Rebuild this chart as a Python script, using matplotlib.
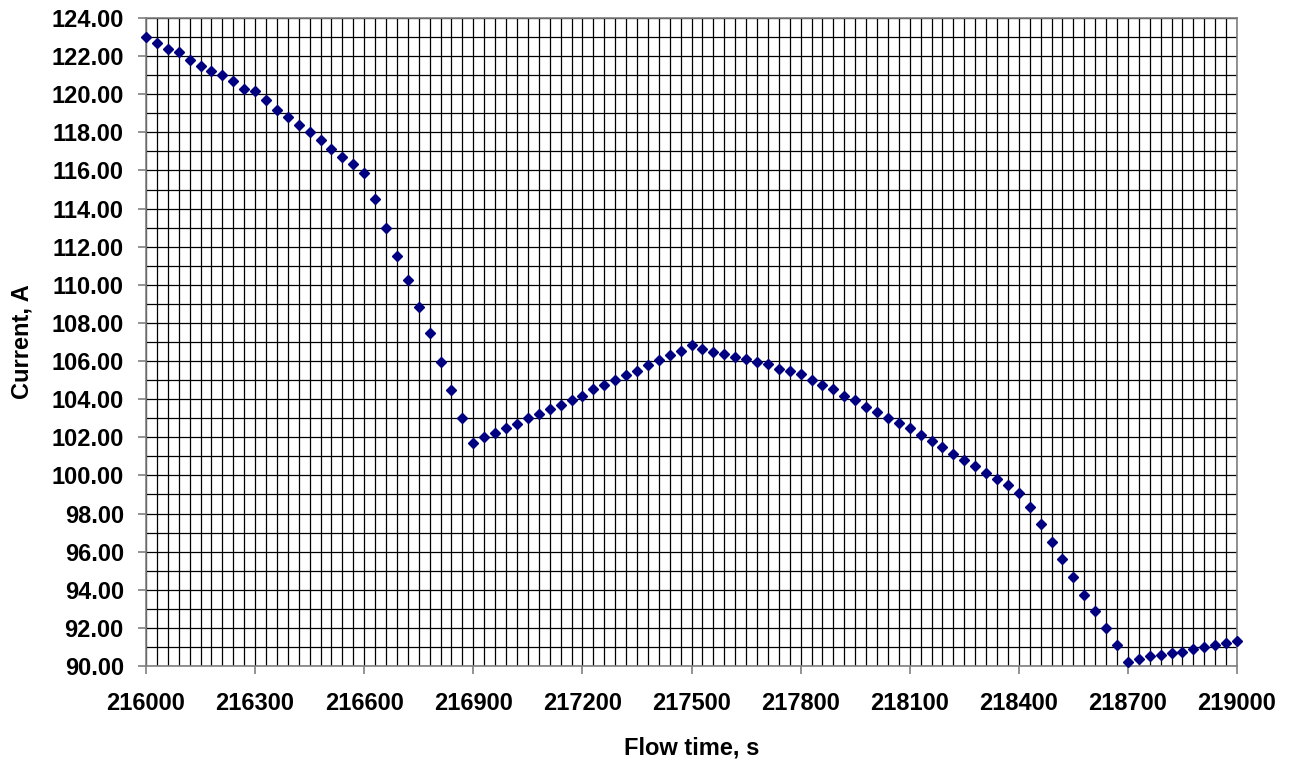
#!/usr/bin/env python3
"""Current vs flow time scatter, Excel-style grid."""

import matplotlib

matplotlib.use("Agg")
import matplotlib.pyplot as plt  # noqa: E402
from matplotlib.ticker import FormatStrFormatter, MultipleLocator  # noqa: E402


# sampling every 30 s between 216000 and 219000
flow_time = list(range(216000, 219001, 30))

current = [
    123.00, 122.70, 122.39, 122.20, 121.80, 121.50, 121.20, 120.99, 120.69, 120.29,
    120.15, 119.70, 119.19, 118.79, 118.40, 118.00, 117.60, 117.11, 116.72, 116.36,
    115.87, 114.50, 113.00, 111.50, 110.25, 108.85, 107.47, 105.95, 104.50, 103.01,
    101.70, 102.02, 102.21, 102.51, 102.70, 103.01, 103.22, 103.50, 103.70, 103.96,
    104.18, 104.52, 104.76, 105.01, 105.25, 105.50, 105.78, 106.04, 106.34, 106.53,
    106.84, 106.62, 106.49, 106.39, 106.23, 106.09, 105.97, 105.83, 105.60, 105.49,
    105.34, 105.01, 104.75, 104.52, 104.15, 103.94, 103.61, 103.33, 102.99, 102.73,
    102.47, 102.11, 101.81, 101.51, 101.14, 100.79, 100.48, 100.14, 99.80, 99.50,
    99.10, 98.36, 97.47, 96.51, 95.60, 94.69, 93.74, 92.90, 92.01, 91.10,
    90.23, 90.35, 90.53, 90.58, 90.67, 90.75, 90.88, 91.01, 91.12, 91.19,
    91.31,
]

X_LABEL = "Flow time, s"
Y_LABEL = "Current, A"

plt.rcParams["font.family"] = ["Liberation Sans", "DejaVu Sans"]
plt.rcParams["font.weight"] = "bold"

figure = plt.figure(figsize=(12.99, 7.62), dpi=100)
axis = figure.add_axes([0.1124, 0.126, 0.8399, 0.8504])

axis.plot(
    flow_time,
    current,
    linestyle="none",
    marker="D",
    markersize=5.0,
    color="#000080",
    zorder=3,
    clip_on=False,
)

axis.set_xlim(216000, 219000)
axis.set_ylim(90, 124)
axis.xaxis.set_major_locator(MultipleLocator(300))
axis.xaxis.set_minor_locator(MultipleLocator(30))
axis.yaxis.set_major_locator(MultipleLocator(2))
axis.yaxis.set_minor_locator(MultipleLocator(1))
axis.yaxis.set_major_formatter(FormatStrFormatter("%.2f"))

axis.grid(which="both", color="black", linewidth=0.9)
axis.set_axisbelow(True)

for spine in axis.spines.values():
    spine.set_color("#808080")
    spine.set_linewidth(1.2)

axis.tick_params(which="major", direction="out", length=6, width=1.2,
                 color="#808080", labelsize=17)
axis.tick_params(axis="x", which="major", pad=13)
axis.tick_params(axis="y", which="major", pad=10)
axis.tick_params(which="minor", length=0)

axis.set_xlabel(X_LABEL, fontsize=17, fontweight="bold", labelpad=15)
axis.set_ylabel(Y_LABEL, fontsize=17, fontweight="bold", labelpad=13)

figure.savefig("out.png", dpi=100)
plt.close(figure)
